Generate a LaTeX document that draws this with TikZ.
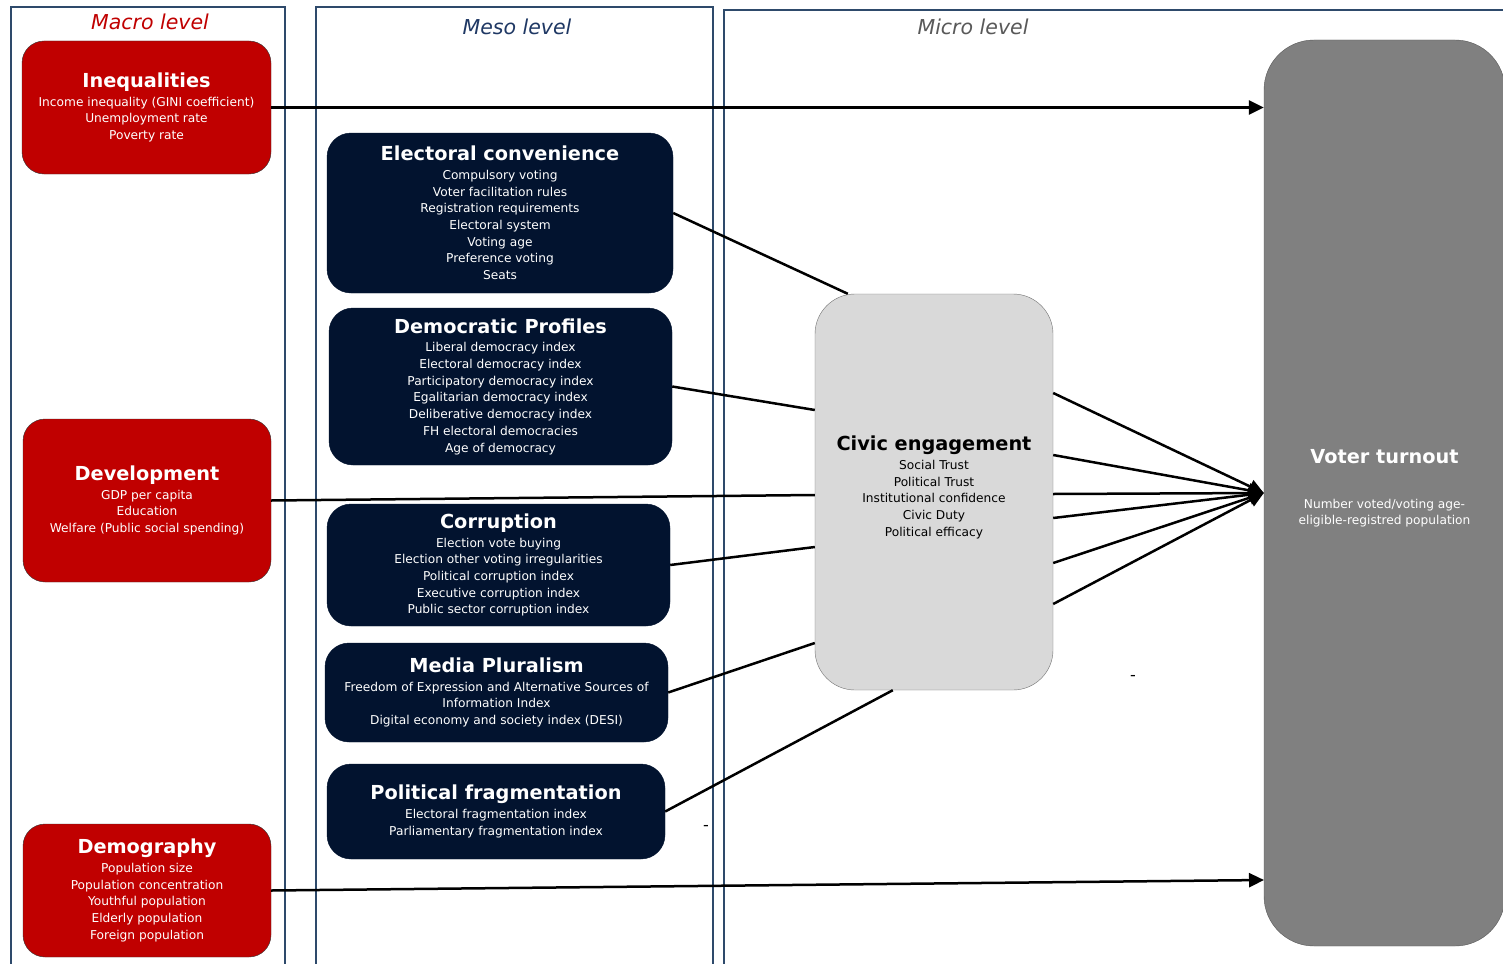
\documentclass[tikz,border=0pt]{standalone}
\usepackage{fontspec}
\setmainfont{DejaVu Sans}
\usetikzlibrary{arrows.meta}
\definecolor{macrored}{HTML}{C00000}
\definecolor{mesonavy}{HTML}{02132F}
\definecolor{framebl}{HTML}{2E4A6B}
\definecolor{mesolab}{HTML}{1F3864}
\definecolor{microlab}{HTML}{595959}
\definecolor{civicgray}{HTML}{D9D9D9}
\definecolor{turngray}{HTML}{808080}
\newcommand{\boxtitle}[1]{{\fontsize{19.3}{22}\selectfont\bfseries #1}}

\begin{document}
\begin{tikzpicture}[x=1pt,y=-1pt]
\tikzstyle{every node}+=[inner sep=0pt]
\tikzstyle{frame}=[draw=framebl,line width=1.5pt]
\tikzstyle{lvl}=[font=\fontsize{20.5}{24}\selectfont\itshape]
\tikzstyle{factor}=[align=center,font=\fontsize{12.2}{16.7}\selectfont]
\tikzstyle{macrobox}=[factor,draw=black!80,fill=macrored,text=white,rounded corners=22pt]
\tikzstyle{mesobox}=[factor,draw=mesonavy,fill=mesonavy,text=white,rounded corners=24pt]
\tikzstyle{conn}=[line width=2.5pt]
\tikzstyle{arr}=[conn,-{Triangle[length=15pt,width=14pt]}]
\useasboundingbox (0,0) rectangle (1503,963);
\fill[white] (0,0) rectangle (1503,963);

\draw[frame] (11,7) rectangle (285,980);
\draw[frame] (316,7) rectangle (713,980);
\draw[frame] (724,10) rectangle (1530,980);
\node[lvl,text=macrored] (macrolab) at (150,22) {Macro level};
\node[lvl,text=mesolab] (mesolab) at (517,27) {Meso level};
\node[lvl,text=microlab] (microlab) at (973,27) {Micro level};

\node[macrobox,minimum width=249,minimum height=133] (ineq) at (146.5,107.5)
  {\boxtitle{Inequalities}\\[2pt]Income inequality (GINI coefficient)\\Unemployment rate\\Poverty rate};
\node[macrobox,minimum width=248,minimum height=163] (devel) at (147,500.5)
  {\boxtitle{Development}\\[2pt]GDP per capita\\Education\\Welfare (Public social spending)};
\node[macrobox,minimum width=248,minimum height=133] (demog) at (147,890.5)
  {\boxtitle{Demography}\\[2pt]Population size\\Population concentration\\Youthful population\\Elderly population\\Foreign population};

\node[mesobox,minimum width=346,minimum height=160] (elect) at (500,213)
  {\boxtitle{Electoral convenience}\\[2pt]Compulsory voting\\Voter facilitation rules\\Registration requirements\\Electoral system\\Voting age\\Preference voting\\Seats};
\node[mesobox,minimum width=343,minimum height=157] (demo) at (500.5,386.5)
  {\boxtitle{Democratic Profiles}\\[2pt]Liberal democracy index\\Electoral democracy index\\Participatory democracy index\\Egalitarian democracy index\\Deliberative democracy index\\FH electoral democracies\\Age of democracy};
\node[mesobox,minimum width=343,minimum height=122] (corrupt) at (498.5,565)
  {\boxtitle{Corruption}\\[2pt]Election vote buying\\Election other voting irregularities\\Political corruption index\\Executive corruption index\\Public sector corruption index};
\node[mesobox,minimum width=343,minimum height=99] (media) at (496.5,692.5)
  {\boxtitle{Media Pluralism}\\[2pt]Freedom of Expression and Alternative Sources of\\Information Index\\Digital economy and society index (DESI)};
\node[mesobox,minimum width=338,minimum height=95] (frag) at (496,811.5)
  {\boxtitle{Political fragmentation}\\[2pt]Electoral fragmentation index\\Parliamentary fragmentation index};

\node[factor,draw=black!55,fill=civicgray,rounded corners=40pt,minimum width=238,minimum height=396] (civic) at (934,492)
  {\boxtitle{Civic engagement}\\[2pt]Social Trust\\Political Trust\\Institutional confidence\\Civic Duty\\Political efficacy\\[-5pt]\mbox{}};
\node[factor,draw=black!65,fill=turngray,text=white,rounded corners=50pt,minimum width=241,minimum height=906] (turnout) at (1384.5,493)
  {\boxtitle{Voter turnout}\\[28pt]Number voted/voting age-\\eligible-registred population\\[-5pt]\mbox{}};

\node[font=\fontsize{16}{16}\selectfont] (dashA) at (1133,678) {-};
\node[font=\fontsize{16}{16}\selectfont] (dashB) at (706,828) {-};

\coordinate (demogend) at (1264,880);
\draw[arr] (ineq.east) -- (ineq.east -| turnout.west);
\draw[arr] (demog.east) -- (demogend);
\draw[conn] (devel.east) -- ([yshift=-3pt]civic.west);
\draw[conn] (elect.east) -- ([xshift=33pt]civic.north west);
\draw[conn] (demo.east) -- ([yshift=82pt]civic.west);
\draw[conn] (corrupt.east) -- ([yshift=-55pt]civic.west);
\draw[conn] (media.east) -- ([yshift=-151pt]civic.west);
\draw[conn] (frag.east) -- ([xshift=78pt]civic.south west);
\foreach \y in {393,455,494,518,563,604}
  \draw[arr] (civic.east |- 0,\y) -- (turnout.west);
\end{tikzpicture}
\end{document}
